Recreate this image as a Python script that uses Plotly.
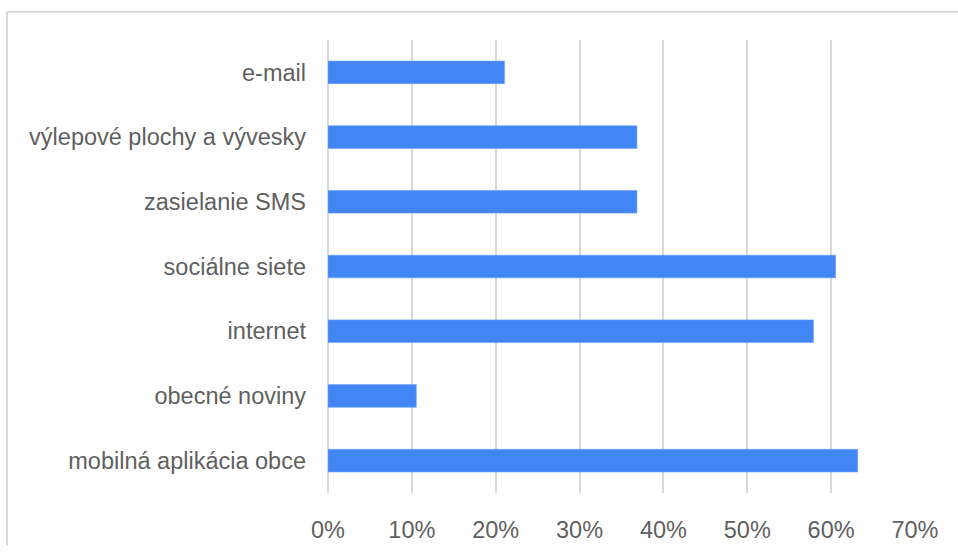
import plotly.graph_objects as go

categories = [
    "e-mail",
    "výlepové plochy a vývesky",
    "zasielanie SMS",
    "sociálne siete",
    "internet",
    "obecné noviny",
    "mobilná aplikácia obce",
]
values = [0.2105, 0.3684, 0.3684, 0.6053, 0.5789, 0.1053, 0.6316]
tick_vals = [0, 0.1, 0.2, 0.3, 0.4, 0.5, 0.6, 0.7]
tick_text = ["0%", "10%", "20%", "30%", "40%", "50%", "60%", "70%"]

W, H = 958, 555
ML, MR, MT, MB = 328, 43, 40, 49
pw = W - ML - MR
ph = H - MT - MB

def px_x(px):
    return (px - ML) / pw

def px_y(py):
    return (H - MB - py) / ph

fig = go.Figure(
    go.Bar(
        x=values,
        y=categories,
        orientation="h",
        marker=dict(color="#4285F4", line=dict(color="#6a9ff6", width=0.6)),
        hoverinfo="skip",
    )
)

font = dict(family="Liberation Sans, Arial, sans-serif", size=23.5, color="#5f5f5f")

fig.update_layout(
    width=W,
    height=H,
    margin=dict(l=ML, r=MR, t=MT, b=MB, pad=0),
    paper_bgcolor="white",
    plot_bgcolor="white",
    bargap=0.65,
    showlegend=False,
    font=font,
    xaxis=dict(
        range=[0, 0.7],
        tickvals=tick_vals,
        ticktext=tick_text,
        showgrid=True,
        gridcolor="#d9d9d9",
        gridwidth=2,
        zeroline=True,
        zerolinecolor="#d9d9d9",
        zerolinewidth=2,
        showline=False,
        ticks="",
        ticklabelstandoff=20,
        tickfont=font,
        fixedrange=True,
    ),
    yaxis=dict(
        categoryorder="array",
        categoryarray=categories,
        autorange="reversed",
        showgrid=False,
        zeroline=False,
        showline=False,
        ticks="",
        ticklabelstandoff=21,
        tickfont=font,
        fixedrange=True,
    ),
    shapes=[
        dict(
            type="line", xref="paper", yref="paper",
            x0=px_x(7), x1=px_x(7), y0=px_y(H + 5), y1=px_y(11),
            line=dict(color="#d9d9d9", width=2),
        ),
        dict(
            type="line", xref="paper", yref="paper",
            x0=px_x(7), x1=px_x(W + 5), y0=px_y(11), y1=px_y(11),
            line=dict(color="#d9d9d9", width=2),
        ),
    ],
)

fig.write_html(
    "out.html",
    config={"displayModeBar": False},
    post_script="document.body.style.margin='0px';document.body.style.overflow='hidden';",
)
